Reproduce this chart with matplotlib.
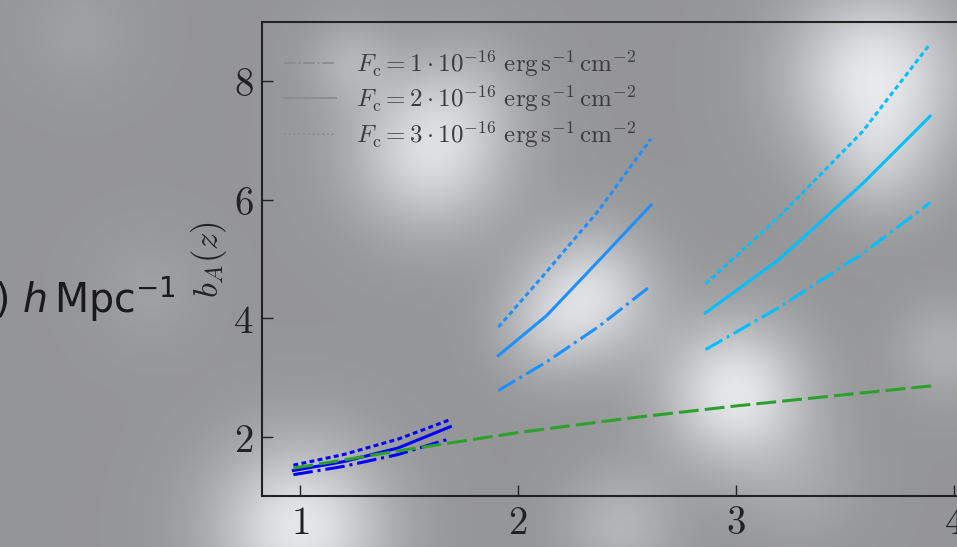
import numpy as np
import matplotlib
matplotlib.use('agg')
import matplotlib.pyplot as plt
from matplotlib.lines import Line2D

plt.rcParams['mathtext.fontset'] = 'cm'

# data
z_blue = [0.97, 1.20, 1.45, 1.69]
b_blue_fc1 = [1.36, 1.50, 1.70, 1.97]
b_blue_fc2 = [1.43, 1.58, 1.81, 2.17]
b_blue_fc3 = [1.52, 1.70, 1.96, 2.29]

z_dodger = [1.91, 2.13, 2.37, 2.61]
b_dodger_fc1 = [2.78, 3.26, 3.86, 4.55]
b_dodger_fc2 = [3.37, 4.04, 4.97, 5.91]
b_dodger_fc3 = [3.85, 4.78, 5.82, 7.03]

z_sky = [2.86, 3.20, 3.58, 3.89]
b_sky_fc1 = [3.47, 4.19, 5.09, 5.95]
b_sky_fc2 = [4.09, 5.00, 6.27, 7.41]
b_sky_fc3 = [4.58, 5.72, 7.15, 8.63]

z_green = [0.97, 1.5, 2.0, 2.5, 3.0, 3.5, 3.9]
b_green = [1.47, 1.79, 2.07, 2.31, 2.52, 2.71, 2.86]

xticks = [1, 2, 3, 4]
yticks = [2, 4, 6, 8]
labels_fc = [r'$F_{\rm c} = 1\cdot 10^{-16}\ {\rm erg\,s^{-1}\,cm^{-2}}$',
             r'$F_{\rm c} = 2\cdot 10^{-16}\ {\rm erg\,s^{-1}\,cm^{-2}}$',
             r'$F_{\rm c} = 3\cdot 10^{-16}\ {\rm erg\,s^{-1}\,cm^{-2}}$']

# blurry slide background (pixel x, y, radius, strength)
blobs = [(430, 150, 55, 0.28), (350, 62, 30, 0.10), (590, 295, 45, 0.27),
         (875, 75, 60, 0.32), (735, 392, 50, 0.32), (300, 528, 60, 0.32),
         (620, 525, 40, 0.12), (880, 165, 40, 0.12), (945, 350, 35, 0.10),
         (540, 330, 35, 0.10), (80, 30, 40, 0.04), (150, 290, 40, 0.04),
         (470, 90, 40, 0.06), (800, 480, 45, 0.06)]

W, H = 957, 547
yy, xx = np.mgrid[0:H, 0:W]
bg = np.full((H, W), 0.59)
for bx, by, r, s in blobs:
    bg += s * np.exp(-((xx - bx) ** 2 + (yy - by) ** 2) / (2 * r ** 2))
bg = np.clip(bg, 0, 1)
img = np.dstack([bg * 0.99, bg * 0.995, bg * 1.01]).clip(0, 1)

fig = plt.figure(figsize=(9.57, 5.47), dpi=100)
bgax = fig.add_axes([0, 0, 1, 1], zorder=-1)
bgax.imshow(img, aspect='auto', interpolation='bilinear')
bgax.axis('off')

ax = fig.add_axes([262 / W, 51 / H, 730 / W, 474 / H])
ax.patch.set_alpha(0)

lw = 2.2
dot = (0, (1.6, 1.1))
for z, f1, f2, f3, c in [(z_blue, b_blue_fc1, b_blue_fc2, b_blue_fc3, '#0000ff'),
                         (z_dodger, b_dodger_fc1, b_dodger_fc2, b_dodger_fc3, '#1e90ff'),
                         (z_sky, b_sky_fc1, b_sky_fc2, b_sky_fc3, '#00bfff')]:
    ax.plot(z, f1, color=c, lw=lw, ls='-.')
    ax.plot(z, f2, color=c, lw=lw, ls='-')
    ax.plot(z, f3, color=c, lw=lw, ls=dot)
ax.plot(z_green, b_green, color='#2ca02c', lw=lw, ls=(0, (6.5, 2)))

ax.set_xlim(0.826, 4.174)
ax.set_ylim(1.0, 9.0)
ax.set_xticks(xticks, labels=[f'${t}$' for t in xticks])
ax.set_yticks(yticks, labels=[f'${t}$' for t in yticks])
ax.tick_params(direction='in', length=8, width=1, labelsize=28,
               colors='#222222', pad=6)
ax.spines['right'].set_visible(False)
for sp in ['left', 'bottom', 'top']:
    ax.spines[sp].set_linewidth(1.5)
    ax.spines[sp].set_color('#222222')
ax.set_ylabel(r'$b_A(z)$', fontsize=25, color='#222222', labelpad=3)

handles = [Line2D([], [], color='0.55', lw=1.3, ls='-.'),
           Line2D([], [], color='0.55', lw=1.3, ls='-'),
           Line2D([], [], color='0.55', lw=1.3, ls=':')]
leg = ax.legend(handles, labels_fc, loc='upper left', bbox_to_anchor=(0.03, 0.945),
                frameon=False, fontsize=18, handlelength=2.1, handletextpad=0.8,
                borderpad=0, borderaxespad=0, labelspacing=0.18)
for t in leg.get_texts():
    t.set_color('#3c3c3c')

fig.text(176 / W, 1 - 313 / H, r's) $h\,\mathrm{Mpc}^{-1}$', ha='right', va='baseline',
         fontsize=28.5, color='#1a1a1a', family='DejaVu Sans', math_fontfamily='dejavusans')

fig.savefig('out.png', dpi=100)
